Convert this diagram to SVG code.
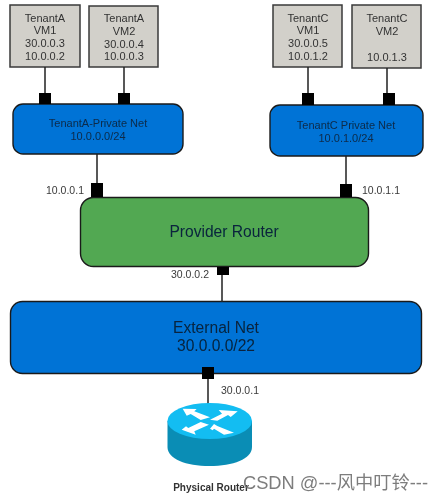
<svg xmlns="http://www.w3.org/2000/svg" width="444" height="501" viewBox="0 0 444 501">
<defs><style>
text{font-family:"Liberation Sans",Arial,sans-serif;text-anchor:middle;filter:url(#soft)}
.vm rect{fill:#d2d0ca;stroke:#3a3a3a;stroke-width:1.5}
.vm text{font-size:11px;fill:#333}
.net{fill:#0073d6;stroke:#1a1a1a;stroke-width:1.4}
.net1{font-size:11px;fill:#0b2a48}
.big{font-size:15.600px;fill:#08233c}
.ip{font-size:10.500px;fill:#3a3a3a}
.wire{stroke:#222;stroke-width:1.5;fill:none}
.port{fill:#000}
.arrow{fill:#fff}
</style>
<filter id="soft" x="-5%" y="-5%" width="110%" height="110%"><feGaussianBlur stdDeviation="0.25"/></filter>
</defs>
<rect width="444" height="501" fill="#fff"/>
<g id="vm-a1" class="vm"><rect x="10" y="5" width="70" height="62"/><text x="45" y="22">TenantA</text><text x="45" y="34">VM1</text><text x="45" y="47">30.0.0.3</text><text x="45" y="60">10.0.0.2</text></g>
<g id="vm-a2" class="vm"><rect x="89" y="6" width="69" height="61"/><text x="124" y="22">TenantA</text><text x="124" y="35">VM2</text><text x="124" y="48">30.0.0.4</text><text x="124" y="60">10.0.0.3</text></g>
<g id="vm-c1" class="vm"><rect x="273" y="5" width="69" height="62"/><text x="308" y="22">TenantC</text><text x="308" y="34">VM1</text><text x="308" y="47">30.0.0.5</text><text x="308" y="60">10.0.1.2</text></g>
<g id="vm-c2" class="vm"><rect x="352" y="5" width="69" height="63"/><text x="387" y="22">TenantC</text><text x="387" y="35">VM2</text><text x="387" y="61">10.0.1.3</text></g>
<g id="net-a"><rect class="net" x="13" y="104" width="170" height="50" rx="10"/><text class="net1" x="98" y="127">TenantA-Private Net</text><text class="net1" x="98" y="140">10.0.0.0/24</text></g>
<g id="net-c"><rect class="net" x="270" y="105" width="153" height="51" rx="10"/><text class="net1" x="346" y="129">TenantC Private Net</text><text class="net1" x="346" y="142">10.0.1.0/24</text></g>
<g id="provider-router"><rect x="80.500" y="197.500" width="288" height="69" rx="13" fill="#52a852" stroke="#1a1a1a" stroke-width="1.4"/><text class="big" x="224" y="237">Provider Router</text></g>
<g id="external-net"><rect class="net" x="10.500" y="301.500" width="411" height="72" rx="12"/><text class="big" x="216" y="333">External Net</text><text class="big" x="216" y="351">30.0.0.0/22</text></g>
<g id="connectors">
<path class="wire" d="M45 67V94M124 67V94M97 154V184M308 67V94M387 68V94M346 156V185M222 270V302M208 375V406"/>
<rect class="port" x="39" y="93" width="12" height="11"/>
<rect class="port" x="118" y="93" width="12" height="11"/>
<rect class="port" x="91" y="183" width="12" height="14"/>
<rect class="port" x="302" y="93" width="12" height="12"/>
<rect class="port" x="383" y="93" width="12" height="12"/>
<rect class="port" x="340" y="184" width="12" height="13"/>
<rect class="port" x="217" y="267" width="12" height="8"/>
<rect class="port" x="202" y="367" width="12" height="12"/>
</g>
<g id="labels"><text class="ip" x="65" y="194">10.0.0.1</text><text class="ip" x="381" y="194">10.0.1.1</text><text class="ip" x="190" y="278">30.0.0.2</text><text class="ip" x="240" y="394">30.0.0.1</text></g>
<g id="physical-router">
<path d="M167.500 421V447C167.500 459 186 466 209.500 466C233 466 252 459 252 447V421Z" fill="#0a8db5"/>
<ellipse cx="209.700" cy="421" rx="42.300" ry="18" fill="#13bdf2"/>
<path class="arrow" d="M182.700 408.700L196.700 409L194.300 411.300L210 417.300L200.700 420L190.700 414L186.700 415.700ZM237.700 411.300L230.700 417L228 415L217.300 420.700L210 419.700L222 413.700L218.700 410ZM181.700 429.700L195.700 434.700L194.300 431.300L209 424.700L200.700 422L188.300 428L186 426.300ZM210 428.700L214 424L217.300 426L234 432.700L224 434.700L214 428.700L212.700 430.300Z"/>
<text x="211" y="491" font-size="10" font-weight="700" fill="#333">Physical Router</text>
</g>
<text x="335.500" y="489" font-size="18.300" fill="#666" fill-opacity="0.85" style="font-family:'Liberation Sans','Noto Sans CJK SC',sans-serif">CSDN @---风中叮铃---</text>
</svg>
